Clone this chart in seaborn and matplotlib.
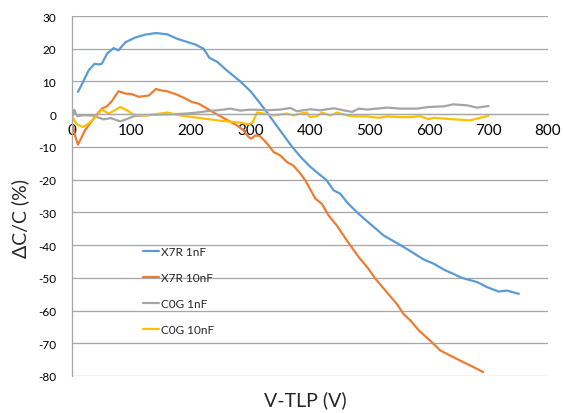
import matplotlib
matplotlib.use('Agg')
import matplotlib.pyplot as plt
import seaborn as sns
import pandas as pd

# ---------------- data ----------------
series_names = ['X7R 1nF', 'X7R 10nF', 'C0G 1nF', 'C0G 10nF']

x7r_1nf_v = [10, 17, 28, 38, 45, 50, 59, 70, 78, 90, 106, 123, 141, 160, 176, 193, 207, 221,
             231, 244, 260, 283, 300, 315, 330, 345, 356, 370, 385, 400, 413, 427, 440, 451,
             462, 479, 501, 524, 552, 571, 591, 608, 625, 641, 655, 681, 697, 717, 731, 751]
x7r_1nf_c = [6.8, 9.3, 13.4, 15.4, 15.2, 15.4, 18.5, 20.2, 19.5, 22.0, 23.4, 24.3, 24.8, 24.4,
             23.1, 22.1, 21.3, 20.0, 17.2, 16.0, 13.4, 10.0, 7.0, 3.6, 0.0, -3.8, -6.5, -10.0,
             -13.2, -16.0, -18.0, -20.0, -23.3, -24.3, -26.9, -30.0, -33.5, -37.1, -40.0,
             -42.1, -44.4, -45.7, -47.5, -48.8, -50.0, -51.3, -52.8, -54.2, -53.9, -54.9]

x7r_10nf_v = [2, 5, 10, 22, 36, 50, 59, 67, 78, 90, 101, 112, 129, 141, 148, 160, 176, 188,
              202, 213, 227, 244, 260, 277, 288, 297, 301, 308, 316, 328, 339, 350, 361, 372,
              384, 392, 409, 420, 431, 445, 462, 482, 498, 510, 529, 546, 557, 569, 583, 602,
              619, 636, 658, 675, 691]
x7r_10nf_c = [-3.5, -6.5, -9.3, -4.9, -1.4, 1.7, 2.4, 4.0, 7.0, 6.3, 6.1, 5.3, 5.7, 7.7, 7.3,
              7.0, 6.0, 5.0, 3.7, 3.2, 1.7, -0.1, -1.7, -3.4, -4.9, -7.0, -7.5, -6.5, -6.7,
              -9.0, -11.6, -12.6, -14.6, -15.7, -18.2, -20.2, -25.8, -27.4, -30.9, -34.0,
              -38.6, -43.7, -47.2, -50.3, -54.4, -58.0, -61.0, -63.1, -66.1, -69.2, -72.2,
              -73.8, -75.8, -77.3, -78.8]

c0g_1nf_v = [2, 4, 6, 9, 20, 35, 53, 65, 81, 92, 104, 125, 148, 170, 193, 210, 227, 250, 266,
             283, 300, 328, 350, 367, 378, 400, 417, 440, 456, 471, 482, 496, 529, 552, 580,
             599, 625, 641, 664, 681, 700]
c0g_1nf_c = [-0.3, 1.3, 0.4, -0.6, -0.3, -0.4, -1.6, -1.2, -2.2, -1.5, -0.6, -0.3, -0.1, 0.0,
             0.2, 0.5, 0.9, 1.3, 1.7, 1.1, 1.4, 1.2, 1.4, 1.9, 0.9, 1.5, 1.2, 1.8, 1.2, 0.7,
             1.7, 1.4, 2.0, 1.7, 1.7, 2.2, 2.4, 3.0, 2.7, 2.0, 2.5]

c0g_10nf_v = [1, 6, 11, 19, 31, 42, 50, 62, 70, 81, 92, 104, 126, 148, 160, 182, 216, 249, 283,
              297, 303, 311, 322, 339, 361, 372, 384, 395, 400, 412, 420, 434, 445, 468, 496,
              515, 529, 552, 569, 585, 599, 608, 636, 669, 686, 700]
c0g_10nf_c = [-0.9, -2.5, -3.4, -3.9, -2.4, -0.4, 1.4, 0.2, 1.0, 2.2, 1.2, -0.2, -0.4, 0.2,
              0.5, -0.4, -1.2, -2.0, -2.6, -3.1, -2.6, 0.5, 0.2, -0.4, 0.2, -0.4, 0.2, 0.5,
              -0.9, -0.6, 0.5, -0.4, 0.5, -0.6, -0.7, -1.1, -0.7, -0.9, -0.9, -0.6, -1.5,
              -1.1, -1.5, -1.9, -1.1, -0.5]

x_ticks = [0, 100, 200, 300, 400, 500, 600, 700, 800]
y_ticks = [-80, -70, -60, -50, -40, -30, -20, -10, 0, 10, 20, 30]
x_label = 'V-TLP (V)'
y_label = 'ΔC/C (%)'

colors = ['#5B9BD5', '#ED7D31', '#A5A5A5', '#FFC000']

# ---------------- build table ----------------
frames = []
for name, v, c in zip(series_names,
                      [x7r_1nf_v, x7r_10nf_v, c0g_1nf_v, c0g_10nf_v],
                      [x7r_1nf_c, x7r_10nf_c, c0g_1nf_c, c0g_10nf_c]):
    frames.append(pd.DataFrame({'V': v, 'dC': c, 'series': name}))
df = pd.concat(frames, ignore_index=True)

# ---------------- plot ----------------
sns.set_theme(style='white')
plt.rcParams['font.family'] = ['Lato', 'DejaVu Sans']
plt.rcParams['axes.unicode_minus'] = False

W, H = 563, 414
fig = plt.figure(figsize=(W / 100, H / 100), dpi=100)
ax = fig.add_axes([72 / W, 1 - 377 / H, 476 / W, 360 / H])

sns.lineplot(data=df, x='V', y='dC', hue='series', hue_order=series_names,
             palette=colors, estimator=None, sort=False, linewidth=1.6, ax=ax)

ax.set_xlim(0, 800)
ax.set_ylim(-80, 30)
ax.set_xticks(x_ticks)
ax.set_yticks(y_ticks)
ax.set_xticklabels([str(t) for t in x_ticks], fontsize=8.5)
ax.set_yticklabels([str(t) for t in y_ticks], fontsize=8.5)

ax.yaxis.grid(True, color='#A6A6A6', linewidth=0.9)
ax.xaxis.grid(False)
ax.set_axisbelow(True)

for s in ['top', 'right']:
    ax.spines[s].set_visible(False)
ax.spines['bottom'].set_position(('data', 0))
ax.spines['bottom'].set_color('#A6A6A6')
ax.spines['left'].set_color('#A6A6A6')
ax.spines['bottom'].set_linewidth(0.9)
ax.spines['left'].set_linewidth(0.9)
ax.tick_params(axis='both', which='both', direction='out', length=3.5, width=0.9,
               color='#A6A6A6', labelcolor='black', pad=3)
ax.tick_params(axis='y', pad=8)

ax.set_xlabel('')
ax.set_ylabel('')
fig.text(305 / W, 1 - 400 / H, x_label, ha='center', va='center', fontsize=14)
fig.text(20 / W, 1 - 218 / H, y_label, ha='center', va='center', rotation=90, fontsize=14)

handles, labels = ax.get_legend_handles_labels()
ax.legend(handles, labels, loc='upper left', bbox_to_anchor=(0.149, 0.36),
          frameon=False, fontsize=8.5, labelspacing=1.25, handlelength=1.4,
          handletextpad=0.15, borderpad=0, borderaxespad=0)

fig.savefig('out.png', dpi=100)
